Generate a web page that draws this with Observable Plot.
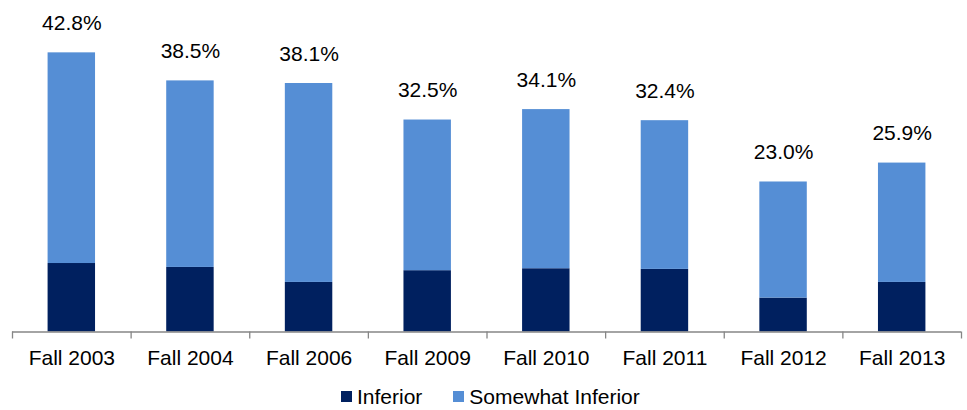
<!DOCTYPE html>
<html>
<head>
<meta charset="utf-8">
<script src="https://cdn.jsdelivr.net/npm/d3@7"></script>
<script src="https://cdn.jsdelivr.net/npm/@observablehq/plot@0.6"></script>
<style>
  html, body { margin: 0; padding: 0; background: #fff; }
  body { width: 967px; height: 410px; overflow: hidden; font-family: "Liberation Sans", Arial, sans-serif; }
  #legend { display: flex; align-items: center; height: 27px; margin-left: 341px; font-size: 21px; color: #000; }
  .item { display: flex; align-items: center; }
  .sw { width: 11px; height: 11px; margin-right: 5px; }
</style>
</head>
<body>
<div id="chart"></div>
<div id="legend"></div>
<script>
const categories = ["Fall 2003", "Fall 2004", "Fall 2006", "Fall 2009", "Fall 2010", "Fall 2011", "Fall 2012", "Fall 2013"];
const inferior = [10.5, 9.9, 7.6, 9.4, 9.7, 9.6, 5.2, 7.6];
const somewhatInferior = [32.3, 28.6, 30.5, 23.1, 24.4, 22.8, 17.8, 18.3];
const totals = [42.8, 38.5, 38.1, 32.5, 34.1, 32.4, 23.0, 25.9];
const totalLabels = ["42.8%", "38.5%", "38.1%", "32.5%", "34.1%", "32.4%", "23.0%", "25.9%"];
const seriesNames = ["Inferior", "Somewhat Inferior"];
const seriesColors = ["#00205F", "#558ED5"];

const rows = [];
categories.forEach((c, i) => {
  rows.push({cat: c, series: seriesNames[0], value: inferior[i]});
  rows.push({cat: c, series: seriesNames[1], value: somewhatInferior[i]});
});
const totalRows = categories.map((c, i) => ({cat: c, total: totals[i], label: totalLabels[i]}));

const W = 967, H = 383, mL = 12, mR = 6;
const step = (W - mL - mR) / categories.length;

const chart = Plot.plot({
  width: W,
  height: H,
  marginLeft: mL,
  marginRight: mR,
  marginTop: 38,
  marginBottom: 51.5,
  style: {fontFamily: "'Liberation Sans', Arial, sans-serif", fontSize: "21px", color: "#000", background: "#fff"},
  x: {domain: categories, paddingInner: 0.6, paddingOuter: 0.3, round: false, label: null},
  y: {domain: [0, 45], axis: null},
  color: {domain: seriesNames, range: seriesColors},
  marks: [
    Plot.barY(rows, Plot.stackY({x: "cat", y: "value", fill: "series", order: seriesNames})),
    Plot.ruleY([0], {stroke: "#868686", strokeWidth: 1.3}),
    Plot.ruleX(categories, {x: d => d, y1: 0, y2: 0, dx: -step / 2, insetBottom: -7, stroke: "#868686", strokeWidth: 1.3}),
    Plot.ruleX([categories[categories.length - 1]], {x: d => d, y1: 0, y2: 0, dx: step / 2, insetBottom: -7, stroke: "#868686", strokeWidth: 1.3}),
    Plot.text(totalRows, {x: "cat", y: "total", text: "label", dy: -23, lineAnchor: "bottom", fontSize: 21, fill: "#000"}),
    Plot.axisX({tickSize: 0, tickPadding: 17.6, fontSize: 21, fill: "#000"})
  ]
});
document.getElementById("chart").appendChild(chart);

const legend = document.getElementById("legend");
seriesNames.forEach((name, i) => {
  const item = document.createElement("div");
  item.className = "item";
  if (i > 0) item.style.marginLeft = "31px";
  const sw = document.createElement("div");
  sw.className = "sw";
  sw.style.background = seriesColors[i];
  const t = document.createElement("span");
  t.textContent = name;
  item.appendChild(sw);
  item.appendChild(t);
  legend.appendChild(item);
});
</script>
</body>
</html>
